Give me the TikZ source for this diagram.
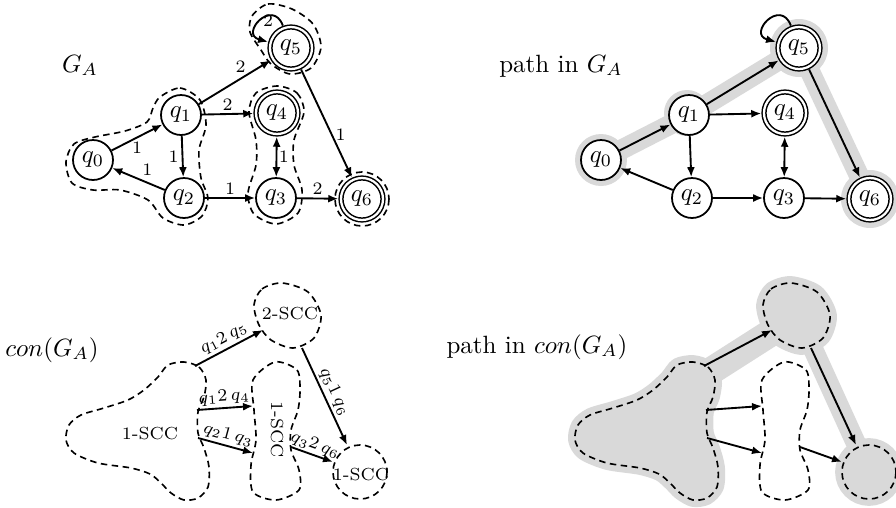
\documentclass[tikz,border=0pt]{standalone}
\usetikzlibrary{arrows.meta}
\begin{document}
\begin{tikzpicture}[x=0.4pt,y=-0.4pt,
  st/.style={circle,draw,line width=0.7pt,fill=white,minimum size=16pt,inner sep=0pt},
  acc/.style={st,line width=0.6pt,double,double distance=0.9pt,minimum size=16.8pt,outer sep=1.1pt},
  arr/.style={line width=0.75pt,-{Latex[length=4pt,width=3.2pt]}},
  barr/.style={line width=0.75pt,{Latex[length=4pt,width=3.2pt]}-{Latex[length=4pt,width=3.2pt]}},
  lab/.style={font=\scriptsize,inner sep=1.2pt},
  el/.style={font=\scriptsize,inner sep=1pt,sloped,above},
  scc/.style={line width=0.65pt,dash pattern=on 2.6pt off 1.8pt},
  sccl/.style={font=\scriptsize,inner sep=0pt},
  hl/.style={draw=black!15,line width=8pt,line cap=round,line join=round},
  halo/.style={draw=black!15,fill=black!15,line width=5.5pt,line join=round},
  ttl/.style={anchor=base,inner sep=0pt},
  blobA/.style={insert path={plot[smooth cycle] coordinates {(184,362) (199,367) (206,380) (204,397) (198,412) (198,433) (204,448) (209,467) (208,487) (198,498) (184,500) (171,493) (161,483) (150,474) (131,468) (98,463) (74,453) (66,440) (69,425) (81,415) (104,408) (128,400) (144,390) (158,377) (168,365)}}},
  blobB/.style={insert path={plot[smooth cycle] coordinates {(254,305) (262,289) (282,283) (308,292) (321,315) (314,338) (293,348) (271,340) (259,325)}}},
  blobC/.style={insert path={plot[smooth cycle] coordinates {(275,362) (297,370) (300,390) (298,410) (291,430) (291,450) (299,470) (299,490) (276,500) (253,492) (251,465) (256,440) (254,410) (253,380)}}},
  blobD/.style={insert path={(360,472) circle[radius=27]}},
]
\useasboundingbox (0,0) rectangle (896,508);

% ---------- top left: G_A ----------
\node[ttl] (tGA) at (80,72) {$G_A$};
\draw[scc] plot[smooth cycle] coordinates {(160,97) (180,88) (200,100) (206,125) (199,150) (201,178) (208,198) (202,216) (184,225) (163,218) (148,200) (120,190) (93,190) (72,183) (66,162) (74,144) (95,137) (125,131) (147,122) (153,108)};
\draw[scc] plot[smooth cycle] coordinates {(277,86) (297,93) (304,112) (294,140) (294,165) (302,190) (298,213) (276,224) (254,214) (248,193) (256,165) (256,140) (249,112) (256,93)};
\draw[scc] plot[smooth cycle] coordinates {(252,16) (268,4) (292,9) (313,24) (321,47) (311,68) (290,74) (271,64) (261,50) (250,32)};
\draw[scc] (362,199) circle[radius=27];

\node[st] (q0) at (93,160) {$q_0$};
\node[st] (q1) at (181,115) {$q_1$};
\node[st] (q2) at (184,198) {$q_2$};
\node[st] (q3) at (276,198) {$q_3$};
\node[acc] (q4) at (277,113) {$q_4$};
\node[acc] (q5) at (291,48) {$q_5$};
\node[acc] (q6) at (362,199) {$q_6$};

\draw[arr] (q0) -- node[lab,below] {1} (q1);
\draw[arr] (q2) -- node[lab,above right] {1} (q0);
\draw[arr] (q1) -- node[lab,left] {1} (q2);
\draw[arr] (q1) -- node[lab,pos=0.58,above,inner sep=2pt] {2} (q5);
\draw[arr] (q1) -- node[lab,above] {2} (q4);
\draw[arr] (q2) -- node[lab,above] {1} (q3);
\draw[arr] (q3) -- node[lab,above] {2} (q6);
\draw[arr] (q5) -- node[lab,pos=0.6,right] {1} (q6);
\draw[barr] (q3) -- node[lab,right,inner sep=0.6pt] {1} (q4);
\draw[arr] (q5) to[out=110,in=165,looseness=3.5] node[lab,pos=0.5,anchor=west,inner sep=0.6pt] {2} (q5);

% ---------- top right: path in G_A ----------
\node[ttl] (tpGA) at (561,72) {path in $G_A$};
\begin{scope}[shift={(508,0)}]
\fill[black!15] (93,160) circle[radius=26];
\fill[black!15] (179,113) circle[radius=23];
\fill[black!15] (291,48) circle[radius=29];
\fill[black!15] (362,199) circle[radius=29];
\draw[hl] (93,160) -- (181,115) -- (291,48) -- (362,199);
\node[st] (p0) at (93,160) {$q_0$};
\node[st] (p1) at (181,115) {$q_1$};
\node[st] (p2) at (184,198) {$q_2$};
\node[st] (p3) at (276,198) {$q_3$};
\node[acc] (p4) at (277,113) {$q_4$};
\node[acc] (p5) at (291,48) {$q_5$};
\node[acc] (p6) at (362,199) {$q_6$};
\draw[arr] (p0) -- (p1);
\draw[arr] (p2) -- (p0);
\draw[arr] (p1) -- (p2);
\draw[arr] (p1) -- (p5);
\draw[arr] (p1) -- (p4);
\draw[arr] (p2) -- (p3);
\draw[arr] (p3) -- (p6);
\draw[arr] (p5) -- (p6);
\draw[barr] (p3) -- (p4);
\draw[arr] (p5) to[out=110,in=165,looseness=3.5] (p5);
\end{scope}

% ---------- bottom left: con(G_A) ----------
\node[ttl] (tcon) at (52,356) {$con(G_A)$};
\draw[scc,blobA];
\draw[scc,blobB];
\draw[scc,blobC];
\draw[scc,blobD];
\node[sccl] (s1) at (150,434) {1-SCC};
\node[sccl] (s2) at (290,314) {2-SCC};
\node[sccl,rotate=-90] (s3) at (277,430) {1-SCC};
\node[sccl] (s4) at (361,475) {1-SCC};
\coordinate (a1s) at (195,366); \coordinate (a1e) at (263,330);
\coordinate (a2s) at (197,410); \coordinate (a2e) at (253,406);
\coordinate (a3s) at (198,438); \coordinate (a3e) at (253,453);
\coordinate (a4s) at (291,447); \coordinate (a4e) at (333,462);
\coordinate (a5s) at (302,348); \coordinate (a5e) at (347,445);
\draw[arr] (a1s) -- node[el] {$q_1 2\,q_5$} (a1e);
\draw[arr] (a2s) -- node[el] {$q_1 2\,q_4$} (a2e);
\draw[arr] (a3s) -- node[el] {$q_2 1\,q_3$} (a3e);
\draw[arr] (a4s) -- node[el,inner sep=0.5pt] {$q_3 2\,q_6$} (a4e);
\draw[arr] (a5s) -- node[el] {$q_5 1\,q_6$} (a5e);

% ---------- bottom right: path in con(G_A) ----------
\node[ttl] (tpcon) at (537,353) {path in $con(G_A)$};
\begin{scope}[shift={(509,0)}]
\draw[hl,line width=11pt] (180,385) -- (285,318);
\draw[hl] (290,318) -- (360,472);
\path[halo,blobA];
\path[halo,blobB];
\path[halo,blobD];
\draw[scc,blobA];
\draw[scc,blobB];
\draw[scc,blobC];
\draw[scc,blobD];
\coordinate (b1s) at (195,366); \coordinate (b1e) at (263,330);
\coordinate (b2s) at (197,410); \coordinate (b2e) at (253,406);
\coordinate (b3s) at (198,438); \coordinate (b3e) at (253,453);
\coordinate (b4s) at (291,447); \coordinate (b4e) at (333,462);
\coordinate (b5s) at (302,348); \coordinate (b5e) at (347,445);
\draw[arr] (b1s) -- (b1e);
\draw[arr] (b2s) -- (b2e);
\draw[arr] (b3s) -- (b3e);
\draw[arr] (b4s) -- (b4e);
\draw[arr] (b5s) -- (b5e);
\end{scope}
\end{tikzpicture}
\end{document}
